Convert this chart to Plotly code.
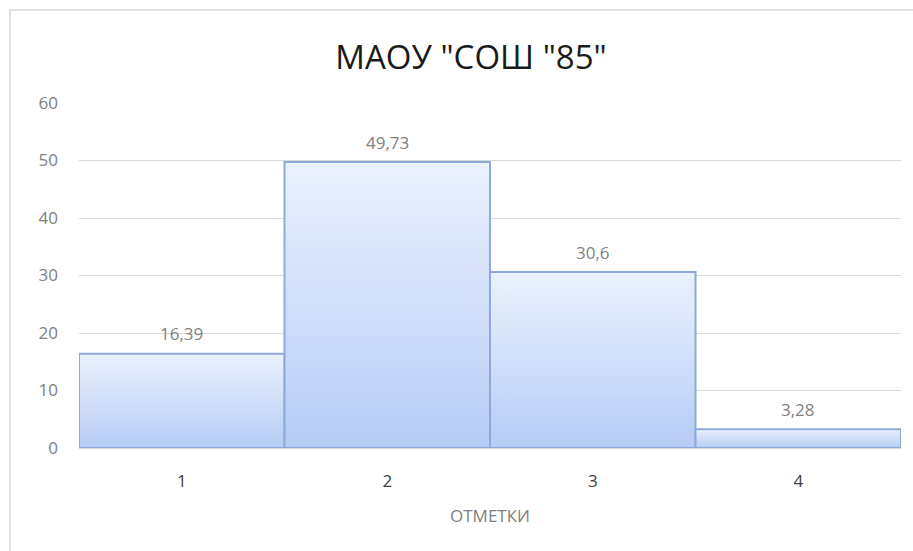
import plotly.graph_objects as go

# marks (x categories) and percentage of students
grades = [1, 2, 3, 4]
shares = [16.39, 49.73, 30.6, 3.28]
share_labels = ["16,39", "49,73", "30,6", "3,28"]
y_ticks = [0, 10, 20, 30, 40, 50, 60]

FONT = "Open Sans, sans-serif"
W, H = 913, 551
L, R, T, B = 79, 12, 103, 103

fig = go.Figure()

# Excel-style histogram columns (gap width 0) with a vertical gradient
for g, v in zip(grades, shares):
    fig.add_trace(go.Scatter(
        x=[g - 0.5, g - 0.5, g + 0.5, g + 0.5, g - 0.5],
        y=[0, v, v, 0, 0],
        mode="lines",
        fill="toself",
        fillgradient=dict(
            type="vertical",
            colorscale=[[0, "#B6CCF5"], [1, "#EBF1FD"]],
        ),
        line=dict(color="#8EA9DB", width=2),
        hoverinfo="skip",
        showlegend=False,
    ))

# value labels above the columns
for g, v, lbl in zip(grades, shares, share_labels):
    fig.add_annotation(
        x=g, y=v, text=lbl, showarrow=False,
        yanchor="middle", yshift=20,
        font=dict(family=FONT, size=17, color="#7F7F7F"),
    )

plot_w = W - L - R
plot_h = H - T - B
# outer chart frame
fig.add_shape(
    type="rect", xref="paper", yref="paper",
    x0=(10 - L) / plot_w, x1=1.2,
    y0=-1, y1=(H - B - 10) / plot_h,
    line=dict(color="#D9D9D9", width=1.5),
    fillcolor="rgba(0,0,0,0)",
)

fig.update_layout(
    width=W, height=H,
    margin=dict(l=L, r=R, t=T, b=B),
    paper_bgcolor="white",
    plot_bgcolor="white",
    title=dict(
        text='МАОУ "СОШ "85"',
        x=471 / W, xref="container", xanchor="center",
        y=1 - 57 / H, yanchor="middle",
        font=dict(family=FONT, size=33, color="#1A1A1A"),
    ),
    font=dict(family=FONT),
)

fig.update_xaxes(
    range=[0.5, 4.5],
    tickvals=grades,
    ticktext=[str(g) for g in grades],
    tickfont=dict(size=17, color="#404040"),
    ticks="",
    showgrid=False,
    zeroline=False,
    showline=True, linecolor="#D9D9D9", linewidth=1,
    ticklabelstandoff=18,
    title=dict(text="ОТМЕТКИ", font=dict(size=17, color="#7F7F7F"), standoff=18),
)
fig.update_yaxes(
    range=[0, 60],
    tickvals=y_ticks,
    tickfont=dict(size=17, color="#7F7F7F"),
    ticks="",
    showgrid=True, gridcolor="#D9D9D9", gridwidth=1,
    zeroline=False,
    showline=False,
    ticklabelstandoff=20,
)

fig.write_html(
    "out.html",
    config={"displayModeBar": False},
    post_script="document.body.style.margin='0';",
)
